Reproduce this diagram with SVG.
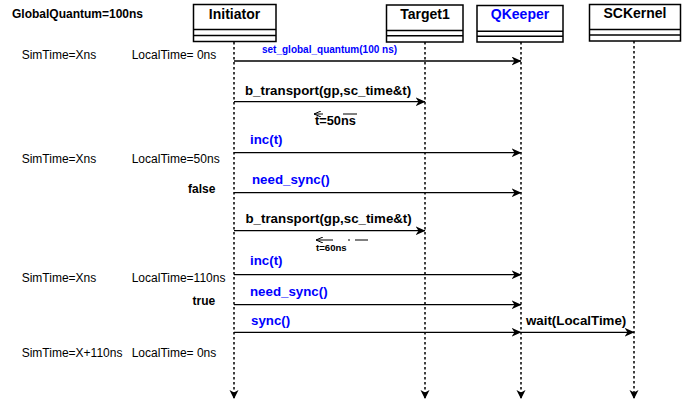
<svg xmlns="http://www.w3.org/2000/svg" width="698" height="402" viewBox="0 0 698 402">
<style>
  text { font-family: "Liberation Sans", Arial, Helvetica, sans-serif; fill: #000; }
  .box { fill: #fff; stroke: #000; stroke-width: 1.5; }
  .sep { stroke: #000; stroke-width: 1.5; fill: none; }
  .title { font-size: 14px; font-weight: bold; text-anchor: middle; }
  .life { stroke: #000; stroke-width: 1.5; stroke-dasharray: 2.5 2.5; fill: none; marker-end: url(#lifeEnd); }
  .msg { stroke: #000; stroke-width: 1.3; fill: none; marker-end: url(#arrow); }
  .ret { stroke: #000; stroke-width: 1.2; fill: none; marker-end: url(#retArrow); }
  .note { font-size: 12px; }
  .bold12 { font-size: 12px; font-weight: bold; }
  .lbl { font-size: 13.3px; font-weight: bold; }
  .blue { fill: #0000ff; }
</style>
<defs>
  <marker id="arrow" markerUnits="userSpaceOnUse" markerWidth="10" markerHeight="9" refX="9.5" refY="4.5" orient="auto">
    <path d="M0,0 L10,4.5 L0,9 L3,4.5 z" fill="#000"/>
  </marker>
  <marker id="lifeEnd" markerUnits="userSpaceOnUse" markerWidth="10" markerHeight="10" refX="8" refY="4.5" orient="auto">
    <path d="M0,0 L9,4.5 L0,9 L2.5,4.5 z" fill="#000"/>
  </marker>
  <marker id="retArrow" markerUnits="userSpaceOnUse" markerWidth="8" markerHeight="6" refX="7" refY="3" orient="auto">
    <path d="M0,0 L7,3 L0,6" fill="none" stroke="#000" stroke-width="1"/>
  </marker>
</defs>

<rect width="698" height="402" fill="#fff"/>

<g id="connectors">
  <!-- lifelines -->
  <line class="life" x1="234" y1="42" x2="234" y2="398"/>
  <line class="life" x1="425" y1="42" x2="425" y2="398"/>
  <line class="life" x1="521" y1="42" x2="521" y2="398"/>
  <line class="life" x1="634" y1="41" x2="634" y2="398"/>

  <!-- messages -->
  <line class="msg" x1="234" y1="61" x2="521" y2="61"/>
  <line class="msg" x1="234" y1="101.7" x2="425" y2="101.7"/>
  <line class="msg" x1="234" y1="152.7" x2="521" y2="152.7"/>
  <line class="msg" x1="234" y1="192.7" x2="521" y2="192.7"/>
  <line class="msg" x1="234" y1="230.7" x2="425" y2="230.7"/>
  <line class="msg" x1="234" y1="274.7" x2="521" y2="274.7"/>
  <line class="msg" x1="234" y1="304.7" x2="521" y2="304.7"/>
  <line class="msg" x1="234" y1="332.3" x2="521" y2="332.3"/>
  <line class="msg" x1="521" y1="332.3" x2="634" y2="332.3"/>

  <!-- returns -->
  <line class="ret" x1="357" y1="114" x2="314" y2="114" stroke-dasharray="14 20 9"/>
  <line class="ret" x1="368" y1="240" x2="316" y2="240" stroke-dasharray="13 5 2 15 17"/>

  <!-- labels -->
  <text class="blue" x="262" y="52.5" font-size="10" font-weight="bold">set_global_quantum(100 ns)</text>
  <text class="lbl" x="245" y="94.5">b_transport(gp,sc_time&amp;t)</text>
  <text x="315" y="124.5" font-size="12.8" font-weight="bold">t=50ns</text>
  <text class="lbl blue" x="250" y="143.5">inc(t)</text>
  <text class="lbl blue" x="252" y="184">need_sync()</text>
  <text class="lbl" x="245.5" y="222.5">b_transport(gp,sc_time&amp;t)</text>
  <text x="316" y="250.5" font-size="9.6" font-weight="bold">t=60ns</text>
  <text class="lbl blue" x="250" y="264.5">inc(t)</text>
  <text class="lbl blue" x="250" y="296">need_sync()</text>
  <text class="lbl blue" x="251" y="325">sync()</text>
  <text class="lbl" x="526" y="325">wait(LocalTime)</text>
</g>

<g id="Initiator">
  <rect class="box" x="193.5" y="4.5" width="82.5" height="37"/>
  <line class="sep" x1="193.5" y1="29.5" x2="276" y2="29.5"/>
  <line class="sep" x1="193.5" y1="35.5" x2="276" y2="35.5"/>
  <text class="title" x="234.5" y="18.5">Initiator</text>
</g>

<g id="Target1">
  <rect class="box" x="386.5" y="5" width="76.5" height="37"/>
  <line class="sep" x1="386.5" y1="30.5" x2="463" y2="30.5"/>
  <line class="sep" x1="386.5" y1="35.8" x2="463" y2="35.8"/>
  <text class="title" x="425" y="18.5">Target1</text>
</g>

<g id="QKeeper">
  <rect class="box" x="477" y="5.5" width="86" height="36.5"/>
  <line class="sep" x1="477" y1="31.3" x2="563" y2="31.3"/>
  <line class="sep" x1="477" y1="36.3" x2="563" y2="36.3"/>
  <text class="title blue" x="520" y="19">QKeeper</text>
</g>

<g id="SCKernel">
  <rect class="box" x="589.5" y="4.5" width="91" height="36.5"/>
  <line class="sep" x1="589.5" y1="29.5" x2="680.5" y2="29.5"/>
  <line class="sep" x1="589.5" y1="35" x2="680.5" y2="35"/>
  <text class="title" x="635" y="18">SCKernel</text>
</g>

<g id="notes">
  <text class="bold12" x="12" y="17.5">GlobalQuantum=100ns</text>
  <text class="note" x="21.7" y="59">SimTime=Xns</text>
  <text class="note" x="131.7" y="59">LocalTime= 0ns</text>
  <text class="note" x="21.7" y="163">SimTime=Xns</text>
  <text class="note" x="131.7" y="163">LocalTime=50ns</text>
  <text class="bold12" x="188" y="193">false</text>
  <text class="note" x="21.7" y="282">SimTime=Xns</text>
  <text class="note" x="131.7" y="282">LocalTime=110ns</text>
  <text class="bold12" x="192.5" y="305">true</text>
  <text class="note" x="21.7" y="356.5">SimTime=X+110ns</text>
  <text class="note" x="131.7" y="356.5">LocalTime= 0ns</text>
</g>
</svg>
